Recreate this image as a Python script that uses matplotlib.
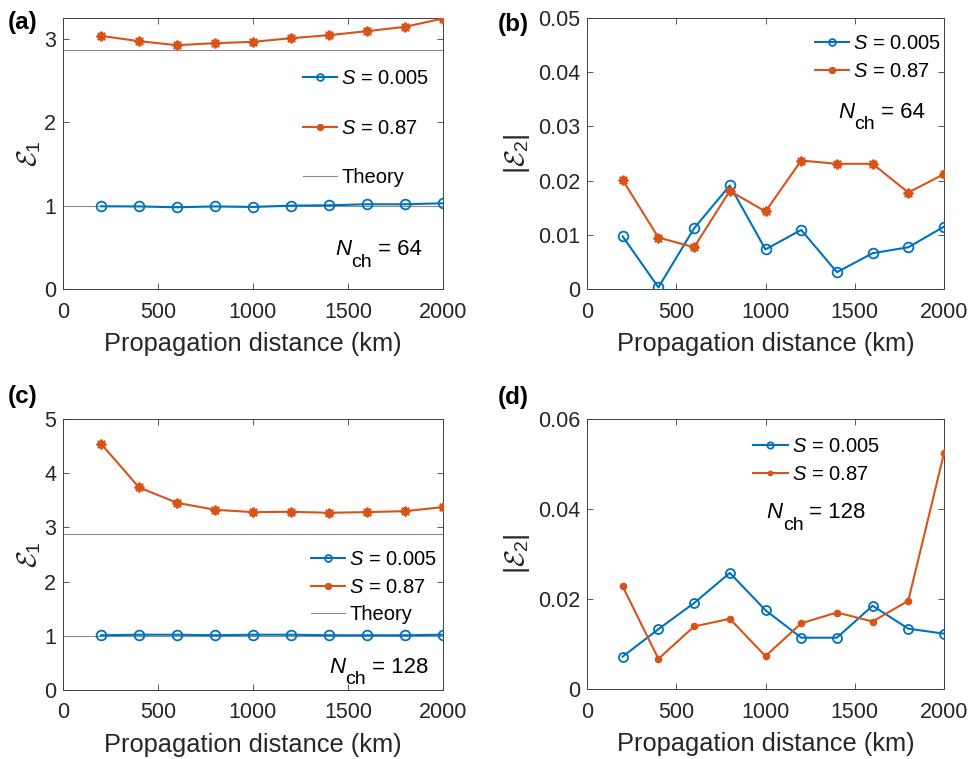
import matplotlib
matplotlib.use("Agg")
import matplotlib.pyplot as plt

plt.rcParams["font.family"] = ["Liberation Sans", "DejaVu Sans"]
plt.rcParams["mathtext.fontset"] = "custom"
plt.rcParams["mathtext.rm"] = "Liberation Sans"
plt.rcParams["mathtext.it"] = "Liberation Sans:italic"
plt.rcParams["mathtext.bf"] = "Liberation Sans:bold"
plt.rcParams["mathtext.cal"] = "cmsy10"

# ---- data -------------------------------------------------------------
distance = [200, 400, 600, 800, 1000, 1200, 1400, 1600, 1800, 2000]

# N_ch = 64
e1_64_s005 = [0.992, 0.990, 0.980, 0.990, 0.984, 1.000, 1.004, 1.016, 1.016, 1.028]
e1_64_s087 = [3.036, 2.972, 2.924, 2.948, 2.964, 3.008, 3.044, 3.092, 3.144, 3.244]
e2_64_s005 = [0.0097, 0.0003, 0.0112, 0.0191, 0.0073, 0.0109, 0.0031, 0.0066, 0.0077, 0.0115]
e2_64_s087 = [0.0201, 0.0095, 0.0077, 0.0181, 0.0143, 0.0237, 0.0231, 0.0231, 0.0178, 0.0212]

# N_ch = 128
e1_128_s005 = [1.01, 1.02, 1.02, 1.01, 1.02, 1.02, 1.01, 1.01, 1.01, 1.02]
e1_128_s087 = [4.544, 3.738, 3.454, 3.325, 3.282, 3.288, 3.270, 3.282, 3.300, 3.374]
e2_128_s005 = [0.0072, 0.0133, 0.0191, 0.0258, 0.0175, 0.0114, 0.0114, 0.0185, 0.0134, 0.0123]
e2_128_s087 = [0.0228, 0.0067, 0.0139, 0.0156, 0.0073, 0.0146, 0.0170, 0.0150, 0.0196, 0.0524]

theory_levels = [1.0, 2.87]
label_s005 = r"$S$ = 0.005"
label_s087 = r"$S$ = 0.87"
xticks = [0, 500, 1000, 1500, 2000]

# ---- styling ----------------------------------------------------------
BLUE = "#0072BD"
ORANGE = "#D95319"
GRAY = "#8c8c8c"
AXC = "#404040"
TXT = "#262626"
ASTERISK = (8, 2, 0)

fig = plt.figure(figsize=(9.69, 7.59), dpi=100)

W, H = 969.0, 759.0


def make_axes(x0, y0, x1, y1):
    return fig.add_axes([x0 / W, 1 - y1 / H, (x1 - x0) / W, (y1 - y0) / H])


ax_a = make_axes(63, 18, 443, 289)
ax_b = make_axes(587, 18, 944, 289)
ax_c = make_axes(63, 419, 443, 690)
ax_d = make_axes(587, 419, 944, 689)


def style(ax, ylim, yticks, yticklabels, ylabel, ylabelpad):
    ax.set_xlim(0, 2000)
    ax.set_ylim(*ylim)
    ax.set_xticks(xticks)
    ax.set_xticklabels([str(t) for t in xticks])
    ax.set_yticks(yticks)
    ax.set_yticklabels(yticklabels)
    ax.tick_params(direction="in", top=True, right=True, length=4, width=0.6,
                   color=AXC, labelsize=15.5, labelcolor=TXT)
    ax.tick_params(axis="x", pad=9)
    ax.tick_params(axis="y", pad=5)
    for sp in ax.spines.values():
        sp.set_color(AXC)
        sp.set_linewidth(0.7)
    ax.set_xlabel("Propagation distance (km)", fontsize=18.3, color=TXT, labelpad=7)
    ax.set_ylabel(ylabel, fontsize=20, color=TXT, labelpad=ylabelpad)


def draw_e1(ax, low, high):
    ax.plot(distance, low, color=BLUE, lw=1.5, marker="o", ms=7,
            mfc="none", mew=1.3, label=label_s005, zorder=3)
    ax.plot(distance, high, color=ORANGE, lw=1.5, marker=ASTERISK, ms=7,
            mew=1.5, label=label_s087, zorder=3)
    for i, lev in enumerate(theory_levels):
        ax.axhline(lev, color=GRAY, lw=0.8, zorder=2,
                   label="Theory" if i == 0 else None)


def channel_note(ax, x, y, count):
    """Write N_ch = count with a large, deeply lowered subscript."""
    n = ax.text(x, y, "N", transform=ax.transAxes, fontsize=16,
                fontstyle="italic", color="black", va="baseline", ha="left")
    sub = ax.annotate("ch", xy=(1, 0), xycoords=n, xytext=(0.3, -7.5),
                      textcoords="offset points", fontsize=14, color="black",
                      va="bottom", ha="left")
    ax.annotate(f"= {count}", xy=(1, 0), xycoords=(sub, n), xytext=(4, 0),
                textcoords="offset points", fontsize=16, color="black",
                va="bottom", ha="left")


def legend(ax, anchor, spacing):
    ax.legend(loc="upper left", bbox_to_anchor=anchor, frameon=False,
              fontsize=14.5, borderpad=0, borderaxespad=0, handlelength=1.7,
              handletextpad=0.2, labelspacing=spacing, markerscale=0.7)


# (a)
draw_e1(ax_a, e1_64_s005, e1_64_s087)
style(ax_a, (0, 3.25), [0, 1, 2, 3], ["0", "1", "2", "3"], r"$\mathcal{E}_1$", 1)
legend(ax_a, (0.632, 0.81), 1.5)
channel_note(ax_a, 0.716, 0.125, 64)

# (b)
ax_b.plot(distance, e2_64_s005, color=BLUE, lw=1.5, marker="o", ms=7,
          mfc="none", mew=1.3, label=label_s005, zorder=3)
ax_b.plot(distance, e2_64_s087, color=ORANGE, lw=1.5, marker=ASTERISK, ms=7,
          mew=1.5, label=label_s087, zorder=3)
style(ax_b, (0, 0.05), [0, 0.01, 0.02, 0.03, 0.04, 0.05],
      ["0", "0.01", "0.02", "0.03", "0.04", "0.05"], r"$|\mathcal{E}_2|$", 4)
legend(ax_b, (0.639, 0.94), 0.42)
channel_note(ax_b, 0.703, 0.631, 64)

# (c)
draw_e1(ax_c, e1_128_s005, e1_128_s087)
style(ax_c, (0, 5), [0, 1, 2, 3, 4, 5], ["0", "1", "2", "3", "4", "5"],
      r"$\mathcal{E}_1$", 1)
legend(ax_c, (0.652, 0.515), 0.42)
channel_note(ax_c, 0.70, 0.064, 128)

# (d)
ax_d.plot(distance, e2_128_s005, color=BLUE, lw=1.5, marker="o", ms=6.5,
          mfc="none", mew=1.3, label=label_s005, zorder=3)
ax_d.plot(distance, e2_128_s087, color=ORANGE, lw=1.5, marker="o", ms=4.5,
          mfc=ORANGE, mec=ORANGE, label=label_s087, zorder=3)
style(ax_d, (0, 0.06), [0, 0.02, 0.04, 0.06], ["0", "0.02", "0.04", "0.06"],
      r"$|\mathcal{E}_2|$", 4)
legend(ax_d, (0.466, 0.932), 0.42)
channel_note(ax_d, 0.502, 0.633, 128)

# panel tags
for tag, (px, py) in {"(a)": (8, 23), "(b)": (498, 24),
                      "(c)": (8, 396), "(d)": (498, 397)}.items():
    fig.text(px / W, 1 - py / H, tag, fontsize=17.5, fontweight="bold",
             color="black", ha="left", va="center")

fig.savefig("out.png", dpi=100)
